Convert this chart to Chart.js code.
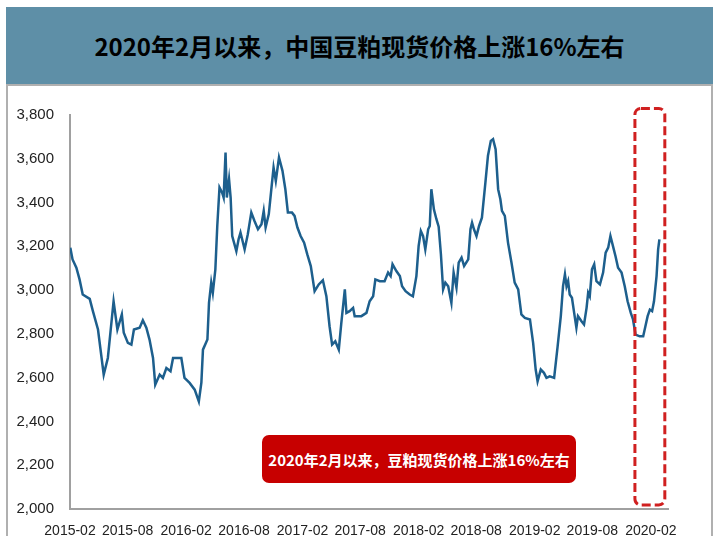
<!DOCTYPE html>
<html>
<head>
<meta charset="utf-8">
<script src="https://cdn.jsdelivr.net/npm/chart.js@4"></script>
<style>
  body { margin: 0; background: #fff; }
  #page { position: relative; width: 720px; height: 536px; overflow: hidden; background: #fff; }
  #title {
    position: absolute; left: 6px; top: 7px; width: 707px; height: 77px;
    background: #5e8fa7; color: #000;
    font: 700 24px "Noto Sans CJK SC", sans-serif;
    display: flex; align-items: center; justify-content: center;
  }
  #frame {
    position: absolute; left: 6px; top: 84px; width: 703px; height: 460px;
    border: 2px solid #b0b0b0;
  }
  #chartBox { position: absolute; left: 0; top: 86px; width: 720px; height: 450px; }
  #note {
    position: absolute; left: 262px; top: 435px; width: 314px; height: 48px;
    background: #c70000; border-radius: 7px; color: #fff;
    font: 700 15px "Noto Sans CJK SC", sans-serif;
    display: flex; align-items: center; justify-content: center;
  }
</style>
</head>
<body>
<div id="page">
  <div id="title">2020年2月以来，中国豆粕现货价格上涨16%左右</div>
  <div id="frame"></div>
  <div id="chartBox"><canvas id="priceChart" width="720" height="450"></canvas></div>
  <div id="note">2020年2月以来，豆粕现货价格上涨16%左右</div>
</div>
<script>
// 豆粕现货价格 (元/吨)
const dates = [
  '2015-02-02','2015-02-09','2015-02-21','2015-03-03','2015-03-13','2015-04-04','2015-04-14','2015-04-30',
  '2015-05-18','2015-05-31','2015-06-09','2015-06-18','2015-06-30','2015-07-14','2015-07-20','2015-08-02',
  '2015-08-13','2015-08-21','2015-09-08','2015-09-18','2015-09-29','2015-10-09','2015-10-20','2015-10-27',
  '2015-11-10','2015-11-20','2015-12-01','2015-12-14','2015-12-22','2016-01-17','2016-01-27','2016-02-12',
  '2016-02-28','2016-03-12','2016-03-20','2016-03-25','2016-04-08','2016-04-13','2016-04-20','2016-04-25',
  '2016-05-03','2016-05-09','2016-05-16','2016-05-24','2016-05-29','2016-06-04','2016-06-08','2016-06-15',
  '2016-06-20','2016-06-25','2016-07-08','2016-07-15','2016-07-21','2016-08-03','2016-08-13','2016-08-24',
  '2016-09-03','2016-09-14','2016-09-25','2016-10-02','2016-10-08','2016-10-18','2016-10-26','2016-11-02',
  '2016-11-09','2016-11-19','2016-11-30','2016-12-09','2016-12-17','2016-12-30','2017-01-07','2017-01-16',
  '2017-01-26','2017-02-06','2017-02-16','2017-02-27','2017-03-11','2017-03-24','2017-04-06','2017-04-17',
  '2017-04-27','2017-05-05','2017-05-15','2017-05-26','2017-06-03','2017-06-14','2017-06-19','2017-06-29',
  '2017-07-10','2017-07-15','2017-08-05','2017-08-21','2017-08-31','2017-09-11','2017-09-18','2017-10-02',
  '2017-10-17','2017-10-28','2017-11-05','2017-11-11','2017-11-23','2017-12-04','2017-12-11','2017-12-22',
  '2018-01-04','2018-01-14','2018-01-25','2018-02-01','2018-02-08','2018-02-15','2018-02-22','2018-03-03',
  '2018-03-08','2018-03-13','2018-03-21','2018-03-29','2018-04-05','2018-04-12','2018-04-19','2018-04-26',
  '2018-05-05','2018-05-15','2018-05-22','2018-05-31','2018-06-07','2018-06-16','2018-06-24','2018-07-07',
  '2018-07-14','2018-07-19','2018-07-25','2018-08-02','2018-08-10','2018-08-19','2018-08-30','2018-09-07',
  '2018-09-16','2018-09-23','2018-10-01','2018-10-09','2018-10-16','2018-10-21','2018-10-30','2018-11-09',
  '2018-11-20','2018-11-30','2018-12-11','2018-12-21','2019-01-01','2019-01-17','2019-01-27','2019-02-04',
  '2019-02-10','2019-02-20','2019-03-02','2019-03-10','2019-03-20','2019-04-03','2019-04-14','2019-04-24',
  '2019-05-01','2019-05-07','2019-05-12','2019-05-17','2019-05-22','2019-05-29','2019-06-05','2019-06-12',
  '2019-06-17','2019-06-28','2019-07-06','2019-07-14','2019-07-19','2019-07-24','2019-07-31','2019-08-07',
  '2019-08-14','2019-08-25','2019-09-04','2019-09-12','2019-09-20','2019-09-27','2019-10-05','2019-10-13',
  '2019-10-21','2019-11-01','2019-11-11','2019-11-20','2019-11-30','2019-12-07','2019-12-15','2019-12-28',
  '2020-01-08','2020-01-15','2020-01-22','2020-01-29','2020-02-05','2020-02-11','2020-02-19','2020-02-24',
  '2020-02-28'
];
const prices = [
  3194,3140,3102,3049,2980,2960,2904,2820,
  2614,2690,2820,2949,2820,2889,2805,2759,
  2751,2820,2828,2862,2828,2774,2690,2568,
  2614,2599,2644,2629,2690,2690,2599,2576,
  2545,2491,2577,2728,2774,2942,3034,2988,
  3095,3293,3469,3446,3423,3629,3423,3507,
  3423,3247,3178,3232,3263,3186,3255,3354,
  3316,3278,3301,3362,3286,3347,3461,3560,
  3499,3606,3545,3461,3354,3354,3339,3286,
  3247,3217,3163,3110,2995,3026,3045,2972,
  2835,2751,2766,2728,2850,3003,2896,2904,
  2919,2881,2881,2896,2949,2972,3049,3041,
  3041,3080,3064,3118,3087,3064,3018,2995,
  2980,2972,3064,3201,3270,3247,3186,3278,
  3293,3461,3369,3324,3290,3165,3003,3034,
  3018,2942,3080,3011,3125,3148,3110,3140,
  3278,3308,3278,3247,3293,3331,3492,3614,
  3682,3690,3644,3461,3415,3362,3339,3217,
  3125,3034,3003,2889,2873,2866,2759,2637,
  2583,2637,2622,2599,2606,2599,2743,2881,
  3018,3072,3018,3041,2980,2965,2896,2828,
  2881,2858,2843,2919,2988,2972,3095,3118,
  3041,3026,3080,3171,3194,3247,3201,3155,
  3102,3080,3018,2949,2896,2866,2797,2789,
  2789,2835,2881,2911,2904,2949,3064,3186,
  3232
];
const tickLabels = ['2015-02','2015-08','2016-02','2016-08','2017-02','2017-08','2018-02','2018-08','2019-02','2019-08','2020-02'];
const yTicks = [2000, 2200, 2400, 2600, 2800, 3000, 3200, 3400, 3600, 3800];

// highlighted period (dashed box)
const highlightFrom = '2019-12-13';
const highlightTo = '2020-03-16';

const dayOf = (s) => {
    const [y, m, d] = s.split('-').map(Number);
    return (Date.UTC(y, m - 1, d || 1) - Date.UTC(2015, 1, 1)) / 864e5;
};

const axisFont = { family: "'Liberation Sans Narrow', 'Arial Narrow', 'Liberation Sans', sans-serif", size: 15 };

const dashedBox = {
    id: 'dashedBox',
    afterDraw(chart) {
        const { ctx, scales: { x, y } } = chart;
        const left = x.getPixelForValue(dayOf(highlightFrom));
        const right = x.getPixelForValue(dayOf(highlightTo));
        const top = y.getPixelForValue(3830);
        const bottom = y.getPixelForValue(2018);
        ctx.save();
        ctx.strokeStyle = '#d02020';
        ctx.lineWidth = 3;
        ctx.setLineDash([9, 4]);
        ctx.beginPath();
        ctx.roundRect(left, top, right - left, bottom - top, 6);
        ctx.stroke();
        ctx.restore();
    }
};

const ctx = document.getElementById('priceChart').getContext('2d');
new Chart(ctx, {
    type: 'line',
    data: {
        datasets: [{
            label: '豆粕现货价格',
            data: dates.map((d, i) => ({ x: dayOf(d), y: prices[i] })),
            borderColor: '#1d5f8d',
            borderWidth: 2.5,
            pointRadius: 0,
            tension: 0,
            fill: false
        }]
    },
    options: {
        responsive: false,
        animation: false,
        layout: { padding: { top: 29, right: 52, left: 0, bottom: 0 } },
        plugins: {
            legend: { display: false },
            tooltip: { enabled: false }
        },
        scales: {
            x: {
                type: 'linear',
                min: 0,
                max: 1880,
                grid: { display: false, drawTicks: true, tickLength: 5, tickColor: '#a0a0a0' },
                border: { color: '#a0a0a0', width: 2 },
                afterBuildTicks: (scale) => {
                    scale.ticks = tickLabels.map(t => ({ value: dayOf(t) }));
                },
                afterFit: (scale) => { scale.height = 27; },
                ticks: {
                    color: '#222',
                    font: { ...axisFont, size: 14 },
                    padding: 9,
                    maxRotation: 0,
                    autoSkip: false,
                    callback: (value, index) => tickLabels[index]
                }
            },
            y: {
                min: 2000,
                max: 3800,
                grid: { display: false, drawTicks: true, tickLength: 4, tickColor: '#a0a0a0' },
                border: { color: '#a0a0a0', width: 2 },
                afterBuildTicks: (scale) => {
                    scale.ticks = yTicks.map(v => ({ value: v }));
                },
                afterFit: (scale) => { scale.width = 70; },
                ticks: {
                    color: '#222',
                    font: axisFont,
                    padding: 12,
                    callback: (value) => value.toLocaleString('en-US')
                }
            }
        }
    },
    plugins: [dashedBox]
});
</script>
</body>
</html>
